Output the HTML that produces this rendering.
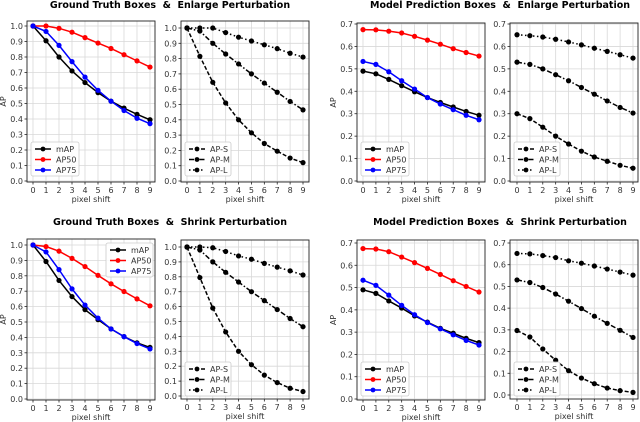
<!DOCTYPE html>
<html><head><meta charset="utf-8"><style>
html,body{margin:0;padding:0;background:#fff}
svg{display:block;font-family:"DejaVu Sans","Liberation Sans",sans-serif}
</style></head><body>
<svg id="fig" width="640" height="422" viewBox="0 0 640 422" xmlns="http://www.w3.org/2000/svg">
<text x="170" y="8" text-anchor="middle" font-size="9.5" font-weight="bold">Ground Truth Boxes&#160; &amp; &#160;Enlarge Perturbation</text>
<text x="500" y="8" text-anchor="middle" font-size="9.5" font-weight="bold">Model Prediction Boxes&#160; &amp; &#160;Enlarge Perturbation</text>
<text x="170" y="225" text-anchor="middle" font-size="9.5" font-weight="bold">Ground Truth Boxes&#160; &amp; &#160;Shrink Perturbation</text>
<text x="500" y="225" text-anchor="middle" font-size="9.5" font-weight="bold">Model Prediction Boxes&#160; &amp; &#160;Shrink Perturbation</text>
</svg>
<script>
const shifts=[0,1,2,3,4,5,6,7,8,9];
const ticks10=[0,0.1,0.2,0.3,0.4,0.5,0.6,0.7,0.8,0.9,1.0];
const ticks07=[0,0.1,0.2,0.3,0.4,0.5,0.6,0.7];
const p1_map=[1.0,0.905,0.80,0.71,0.635,0.57,0.515,0.47,0.43,0.395];
const p1_ap50=[1.0,1.0,0.985,0.96,0.925,0.89,0.855,0.815,0.775,0.735];
const p1_ap75=[1.0,0.965,0.875,0.77,0.67,0.585,0.515,0.455,0.405,0.37];
const p2_s=[1.0,0.815,0.645,0.51,0.40,0.315,0.245,0.195,0.15,0.12];
const p2_m=[1.0,0.98,0.90,0.83,0.765,0.70,0.64,0.58,0.52,0.465];
const p2_l=[1.0,1.0,1.0,0.97,0.94,0.915,0.89,0.865,0.835,0.81];
const p3_map=[0.49,0.478,0.453,0.425,0.398,0.372,0.35,0.33,0.31,0.293];
const p3_ap50=[0.675,0.674,0.668,0.66,0.645,0.628,0.61,0.59,0.573,0.557];
const p3_ap75=[0.533,0.52,0.487,0.447,0.41,0.372,0.343,0.318,0.293,0.273];
const p4_s=[0.30,0.278,0.24,0.20,0.165,0.133,0.107,0.088,0.07,0.057];
const p4_m=[0.53,0.52,0.50,0.474,0.447,0.417,0.387,0.357,0.328,0.303];
const p4_l=[0.652,0.648,0.642,0.632,0.62,0.607,0.592,0.578,0.563,0.548];
const p5_map=[1.0,0.893,0.77,0.665,0.58,0.515,0.455,0.405,0.365,0.335];
const p5_ap50=[1.0,0.99,0.96,0.913,0.86,0.803,0.748,0.698,0.65,0.605];
const p5_ap75=[1.0,0.955,0.84,0.715,0.61,0.525,0.455,0.405,0.36,0.325];
const p6_s=[1.0,0.795,0.59,0.43,0.30,0.21,0.14,0.09,0.052,0.03];
const p6_m=[1.0,0.98,0.90,0.83,0.765,0.70,0.64,0.58,0.52,0.465];
const p6_l=[1.0,1.0,0.995,0.97,0.94,0.918,0.89,0.865,0.84,0.812];
const p7_map=[0.49,0.474,0.44,0.408,0.373,0.345,0.317,0.295,0.272,0.253];
const p7_ap50=[0.675,0.673,0.661,0.637,0.612,0.586,0.559,0.531,0.505,0.48];
const p7_ap75=[0.533,0.51,0.466,0.42,0.378,0.343,0.315,0.288,0.263,0.242];
const p8_s=[0.297,0.267,0.212,0.16,0.112,0.078,0.052,0.032,0.02,0.012];
const p8_m=[0.53,0.518,0.495,0.465,0.432,0.398,0.363,0.33,0.298,0.265];
const p8_l=[0.652,0.65,0.642,0.633,0.618,0.607,0.594,0.58,0.566,0.552];

const NS="http://www.w3.org/2000/svg";
const fig=document.getElementById('fig');
function mk(tag,attrs,parent){const e=document.createElementNS(NS,tag);for(const k in attrs)e.setAttribute(k,attrs[k]);(parent||fig).appendChild(e);return e;}

const lineStyles={solid:'',S:'4,2',M:'5,2,1.5,2',L:'1.5,2.5'};
function panel(cfg){
  const g=mk('g',{});
  
  
  const fx=cfg.fx, fy=cfg.fy;
  const X=v=>cfg.x0+(cfg.x9-cfg.x0)*v/9;
  const Y=v=>cfg.yb+(cfg.yt-cfg.yb)*v/cfg.ymax;
  shifts.forEach(s=>{const l=mk('line',{x1:X(s),x2:X(s),y1:fy[0],y2:fy[1],stroke:'#d8d8d8','stroke-width':0.8},g);
    });
  cfg.ticks.forEach(t=>{const l=mk('line',{x1:fx[0],x2:fx[1],y1:Y(t),y2:Y(t),stroke:'#d8d8d8','stroke-width':0.8},g);
    });
  const fr=mk('rect',{x:fx[0],y:fy[0],width:fx[1]-fx[0],height:fy[1]-fy[0],fill:'none',stroke:'#222','stroke-width':0.9},g);
  
  shifts.forEach(s=>{mk('line',{x1:X(s),x2:X(s),y1:fy[1],y2:fy[1]+2.5,stroke:'#222','stroke-width':0.8},g);
    const t=mk('text',{x:X(s),y:fy[1]+11,'text-anchor':'middle','font-size':8,fill:'#333'},g);t.textContent=s;
    });
  cfg.ticks.forEach(v=>{mk('line',{x1:fx[0]-2.5,x2:fx[0],y1:Y(v),y2:Y(v),stroke:'#222','stroke-width':0.8},g);
    const t=mk('text',{x:fx[0]-4,y:Y(v)+3,'text-anchor':'end','font-size':8,fill:'#333'},g);t.textContent=v.toFixed(1);
    });
  const xl=mk('text',{x:(fx[0]+fx[1])/2,y:fy[1]+20,'text-anchor':'middle','font-size':8,fill:'#333'},g);xl.textContent='pixel shift';
  
  if(cfg.ylabel){const yl=mk('text',{x:0,y:0,'text-anchor':'middle','font-size':8,fill:'#333',transform:`translate(${fx[0]-21},${(fy[0]+fy[1])/2}) rotate(-90)`},g);yl.textContent='AP';
    }
  cfg.series.forEach(s=>{
    const sg=mk('g',{},g);
    
    
    const pts=s.data.map((v,i)=>X(shifts[i])+','+Y(v)).join(' ');
    mk('polyline',{points:pts,fill:'none',stroke:s.color,'stroke-width':1.5,'stroke-dasharray':lineStyles[s.style]},sg);
    s.data.forEach((v,i)=>{const c=mk('circle',{cx:X(shifts[i]),cy:Y(v),r:2.6,fill:s.color},sg);
      });
  });
  const L=cfg.legend;
  const lg=mk('g',{},g);
  
  
  mk('rect',{x:L.x,y:L.y,width:L.w,height:34,rx:2,fill:'#fff','fill-opacity':0.85,stroke:'#ccc','stroke-width':0.8},lg);
  cfg.series.forEach((s,i)=>{
    const yy=L.y+7+i*10.5;
    const e=mk('g',{},lg);
    
    
    mk('line',{x1:L.x+4,x2:L.x+20,y1:yy,y2:yy,stroke:s.color,'stroke-width':1.5,'stroke-dasharray':lineStyles[s.style]},e);
    mk('circle',{cx:L.x+12,cy:yy,r:2.4,fill:s.color},e);
    const t=mk('text',{x:L.x+25,y:yy+3,'font-size':8,fill:'#333'},e);t.textContent=s.label;
  });
}
function trio(a,b,c){return [{label:'mAP',data:a,color:'#000',style:'solid'},{label:'AP50',data:b,color:'#f00',style:'solid'},{label:'AP75',data:c,color:'#00f',style:'solid'}];}
function sml(a,b,c){return [{label:'AP-S',data:a,color:'#000',style:'S'},{label:'AP-M',data:b,color:'#000',style:'M'},{label:'AP-L',data:c,color:'#000',style:'L'}];}

panel({name:'panel-gt-enlarge-overall',fx:[27,155],fy:[21,182],x0:33,x9:150,yt:26,yb:181,ymax:1,ticks:ticks10,ylabel:true,series:trio(p1_map,p1_ap50,p1_ap75),legend:{x:31,y:142,w:48}});
panel({name:'panel-gt-enlarge-size',fx:[181,309],fy:[21,182],x0:187,x9:303,yt:28,yb:181,ymax:1,ticks:ticks10,series:sml(p2_s,p2_m,p2_l),legend:{x:185,y:142,w:46}});
panel({name:'panel-pred-enlarge-overall',fx:[357,485],fy:[23,182],x0:363,x9:479,yt:24,yb:181,ymax:0.7,ticks:ticks07,ylabel:true,series:trio(p3_map,p3_ap50,p3_ap75),legend:{x:361,y:142,w:48}});
panel({name:'panel-pred-enlarge-size',fx:[510,638],fy:[23,182],x0:517,x9:633,yt:24,yb:181,ymax:0.7,ticks:ticks07,series:sml(p4_s,p4_m,p4_l),legend:{x:514,y:142,w:46}});
panel({name:'panel-gt-shrink-overall',fx:[27,155],fy:[239,400],x0:33,x9:150,yt:245,yb:399,ymax:1,ticks:ticks10,ylabel:true,series:trio(p5_map,p5_ap50,p5_ap75),legend:{x:106,y:243,w:47}});
panel({name:'panel-gt-shrink-size',fx:[181,309],fy:[240,399],x0:187,x9:303,yt:247,yb:396,ymax:1,ticks:ticks10,series:sml(p6_s,p6_m,p6_l),legend:{x:185,y:362,w:46}});
panel({name:'panel-pred-shrink-overall',fx:[357,485],fy:[240,400],x0:363,x9:479,yt:243,yb:399,ymax:0.7,ticks:ticks07,ylabel:true,series:trio(p7_map,p7_ap50,p7_ap75),legend:{x:361,y:362,w:48}});
panel({name:'panel-pred-shrink-size',fx:[510,638],fy:[240,399],x0:517,x9:633,yt:243,yb:395,ymax:0.7,ticks:ticks07,series:sml(p8_s,p8_m,p8_l),legend:{x:514,y:362,w:46}});
</script>
</body></html>
